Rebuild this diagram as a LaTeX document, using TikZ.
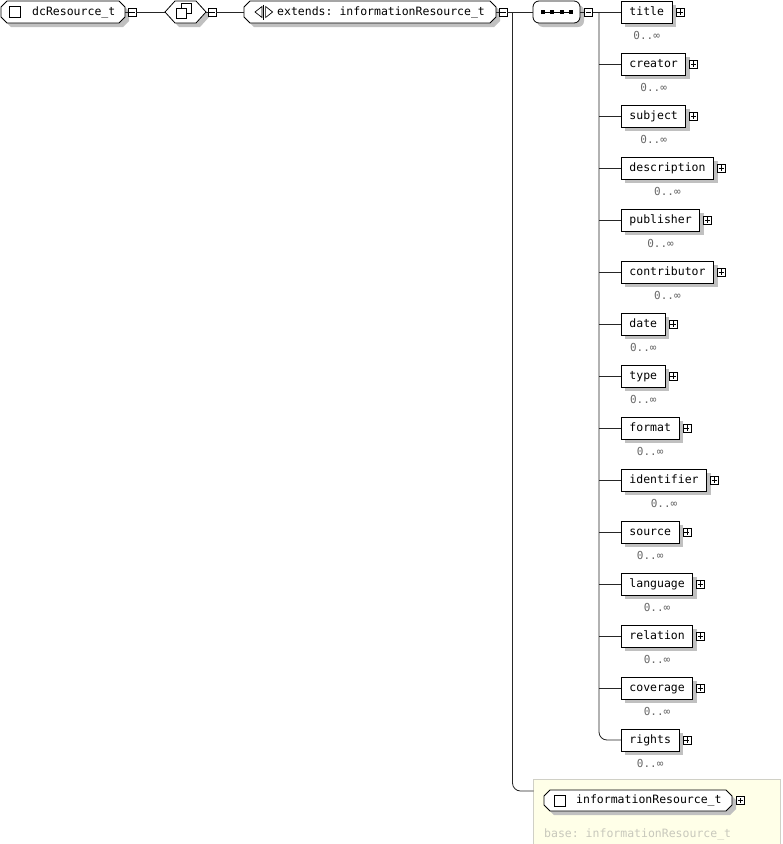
\documentclass[tikz,border=0pt]{standalone}
\usepackage{fontspec}
\setmonofont{DejaVu Sans Mono}
\usetikzlibrary{shadows}
\definecolor{shd}{RGB}{192,192,192}
\definecolor{multc}{RGB}{105,105,105}
\definecolor{panel}{RGB}{255,255,232}
\definecolor{panelb}{RGB}{208,208,198}
\definecolor{basec}{RGB}{200,200,188}
\tikzset{
  conn/.style={line width=0.8pt, black!85},
  shp/.style={draw, line width=0.8pt, fill=white},
  elem/.style={draw, line width=0.8pt, fill=white, minimum height=22pt, inner xsep=8pt, inner ysep=0pt,
    text height=8.6pt, text depth=2.4pt,
    font=\ttfamily\fontsize{11.5}{12}\selectfont, anchor=west,
    drop shadow={shadow xshift=4pt, shadow yshift=-4pt, fill=shd, opacity=1}},
  lbl/.style={font=\ttfamily\fontsize{11.5}{12}\selectfont, inner sep=0pt, anchor=west, text height=8.6pt, text depth=2.4pt},
  multl/.style={font=\ttfamily\fontsize{11}{12}\selectfont, text=multc, inner sep=0pt},
  btnbase/.style={draw, line width=0.6pt, fill=white, minimum size=8pt, inner sep=0pt},
  minusb/.style={btnbase, path picture={\draw[line width=0.6pt] ([xshift=-2.6pt]path picture bounding box.center) -- ([xshift=2.6pt]path picture bounding box.center);}},
  plusb/.style={btnbase, path picture={\draw[line width=0.6pt] ([xshift=-2.6pt]path picture bounding box.center) -- ([xshift=2.6pt]path picture bounding box.center) ([yshift=-2.6pt]path picture bounding box.center) -- ([yshift=2.6pt]path picture bounding box.center);}},
  anch/.style={inner sep=0pt, minimum height=22pt},
}
\newcommand\octshape[4]{%
  \begin{scope}[shift={(4,4)}]
    \fill[shd] ({#1+6},#2) -- ({#3-6},#2) -- (#3,{#2+6}) -- (#3,{#4-6}) -- ({#3-6},#4) -- ({#1+6},#4) -- (#1,{#4-6}) -- (#1,{#2+6}) -- cycle;
  \end{scope}
  \path[shp] ({#1+6},#2) -- ({#3-6},#2) -- (#3,{#2+6}) -- (#3,{#4-6}) -- ({#3-6},#4) -- ({#1+6},#4) -- (#1,{#4-6}) -- (#1,{#2+6}) -- cycle;
}
\newcommand\hexshape[4]{%
  \begin{scope}[shift={(4,4)}]
    \fill[shd] (#1,{(#2+#4)/2}) -- ({#1+10},#2) -- ({#3-10},#2) -- (#3,{(#2+#4)/2}) -- ({#3-10},#4) -- ({#1+10},#4) -- cycle;
  \end{scope}
  \path[shp] (#1,{(#2+#4)/2}) -- ({#1+10},#2) -- ({#3-10},#2) -- (#3,{(#2+#4)/2}) -- ({#3-10},#4) -- ({#1+10},#4) -- cycle;
}
\begin{document}
\begin{tikzpicture}[x=1pt, y=-1pt]
\useasboundingbox (0,0) rectangle (783,844);
\fill[white] (0,0) rectangle (783,844);

% yellow panel
\path[fill=panel, draw=panelb, line width=0.8pt] (533.5,779.5) rectangle (780.5,850);

% main connectors (drawn first)
\draw[conn, rounded corners=8pt] (512.5,12) -- (512.5,791) -- (533.5,791);
\draw[conn, rounded corners=8pt] (599,12) -- (599,740) -- (621,740);

% dcResource_t
\octshape{1}{1}{125}{23}
\node[anch, minimum width=124pt] (dc) at (63,12) {};
\draw[line width=0.7pt, fill=white] (9.5,6) rectangle (20.5,17);
\node[lbl] (dct) at (32,12) {dcResource\_t};
\node[minusb] (m1) at (132,12) {};

% all compositor
\hexshape{165}{1}{206}{23}
\node[anch, minimum width=41pt] (hx) at (185.5,12) {};
\draw[line width=0.7pt, fill=white] (181,3.5) rectangle (191,13.5);
\draw[line width=0.7pt, fill=white] (176,8) rectangle (186,18);
\node[minusb] (m2) at (212,12) {};

% extends
\octshape{244}{1}{496}{23}
\node[anch, minimum width=252pt] (ext) at (370,12) {};
\draw[line width=0.7pt] (262,6.5) -- (255,12) -- (262,17.5) -- cycle;
\draw[line width=0.7pt] (263.8,4.5) -- (263.8,19.5);
\draw[line width=0.7pt] (265.6,6.5) -- (272.6,12) -- (265.6,17.5) -- cycle;
\node[lbl] (extt) at (277,12) {extends: informationResource\_t};
\node[minusb] (m3) at (503,12) {};

% sequence
\node[draw, line width=0.8pt, fill=white, rounded corners=6pt, minimum width=47pt, minimum height=22pt, inner sep=0pt,
  drop shadow={shadow xshift=4pt, shadow yshift=-4pt, fill=shd, opacity=1}] (seq) at (556.5,12) {};
\draw[line width=0.8pt] (543,12) -- (571,12);
\foreach \sx in {543,552.3,561.6,571}{\fill (\sx-2,10) rectangle (\sx+2,14);}
\node[minusb] (m4) at (588.5,12) {};

% connectors along the top
\draw[conn] (dc.east) -- (m1.west);
\draw[conn] (m1.east) -- (hx.west);
\draw[conn] (hx.east) -- (m2.west);
\draw[conn] (m2.east) -- (ext.west);
\draw[conn] (ext.east) -- (m3.west);
\draw[conn] (m3.east) -- (seq.west);
\draw[conn] (seq.east) -- (m4.west);

% children
\foreach \nm [count=\i from 0] in {title,creator,subject,description,publisher,contributor,date,type,format,identifier,source,language,relation,coverage,rights}{
  \pgfmathsetmacro{\yy}{12+52*\i}
  \node[elem] (c\i) at (621,\yy) {\nm};
  \node[plusb] (p\i) at ([xshift=7.5pt]c\i.east) {};
  \node[multl] (u\i) at ([yshift=-12.5pt]c\i.south) {0..∞};
}
\draw[conn] (m4.east) -- (c0.west);
\foreach \i in {1,...,13}{\draw[conn] (599,{12+52*\i}) -- (c\i.west);}

% informationResource_t
\octshape{544}{790}{732}{811}
\node[anch, minimum width=188pt, minimum height=21pt] (info) at (638,800.5) {};
\draw[line width=0.7pt, fill=white] (554,795.5) rectangle (565,806.5);
\node[lbl] (infot) at (576,800.5) {informationResource\_t};
\node[plusb] (pi) at (740.5,800.5) {};
\node[lbl, text=basec] (base) at (544,834) {base: informationResource\_t};
\end{tikzpicture}
\end{document}
